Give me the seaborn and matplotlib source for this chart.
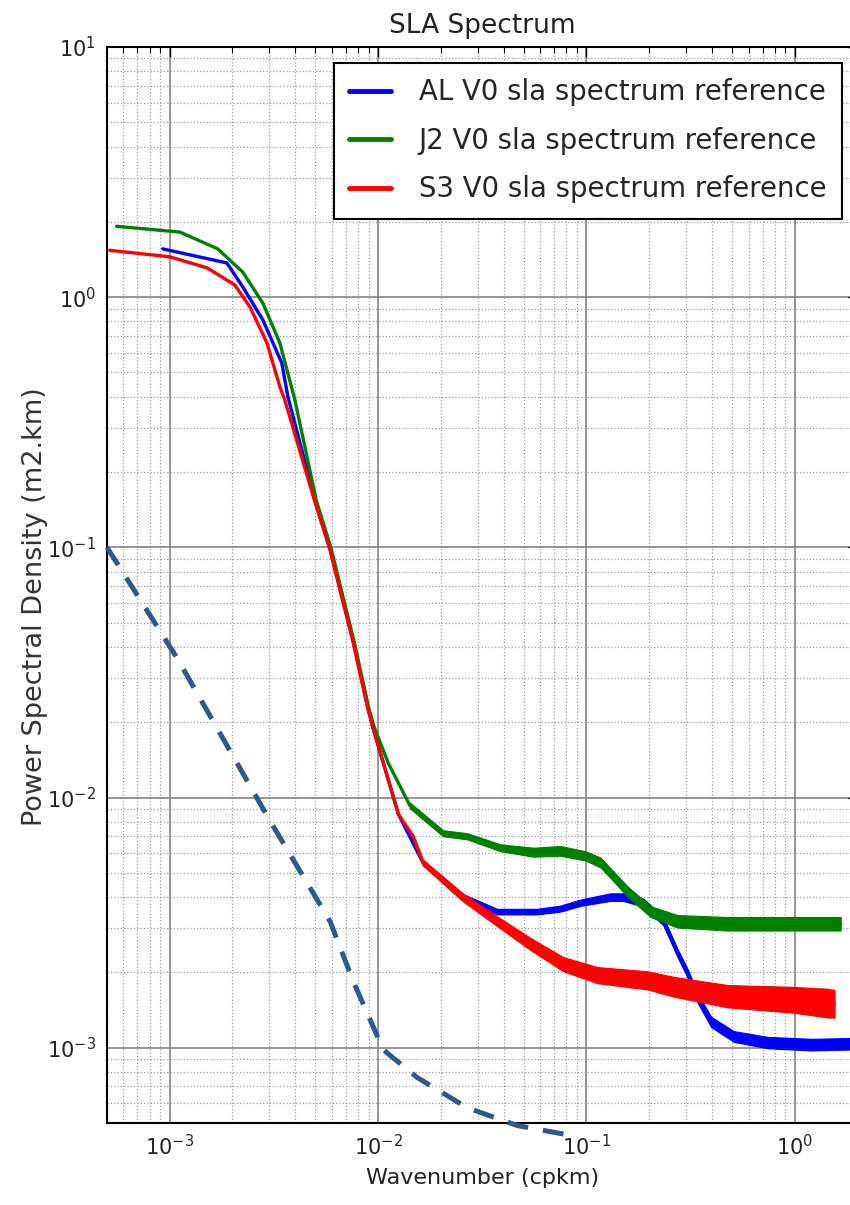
import numpy as np
import pandas as pd
import matplotlib
matplotlib.use("Agg")
import matplotlib.pyplot as plt
from matplotlib.ticker import LogLocator, NullFormatter
import seaborn as sns

# ---------------- data ----------------
title = "SLA Spectrum"
x_label = "Wavenumber (cpkm)"
y_label = "Power Spectral Density (m2.km)"
series_names = ["AL V0 sla spectrum reference",
                "J2 V0 sla spectrum reference",
                "S3 V0 sla spectrum reference"]

al_x = [9.25e-4, 1.88e-3, 2.24e-3, 2.8e-3, 3.45e-3, 3.69e-3, 4.98e-3, 5.88e-3,
        6.79e-3, 7.58e-3, 8.93e-3, 9.45e-3, 1.25e-2, 1.64e-2, 2.47e-2, 3.73e-2,
        5.8e-2, 7.5e-2, 9.37e-2, 0.13, 0.15, 0.188, 0.234, 0.273, 0.306, 0.342,
        0.396, 0.509, 0.74, 1.2, 2.0]
al_y = [1.56, 1.37, 1.10, 0.81, 0.545, 0.40, 0.154, 0.099,
        0.0614, 0.0425, 0.0229, 0.019, 8.6e-3, 5.5e-3, 4.06e-3, 3.5e-3,
        3.5e-3, 3.6e-3, 3.8e-3, 4.0e-3, 4.0e-3, 3.8e-3, 3.2e-3, 2.4e-3, 1.98e-3, 1.58e-3,
        1.27e-3, 1.11e-3, 1.05e-3, 1.03e-3, 1.04e-3]
# noise envelope of AL (from x = 1.64e-2 on)
al_band_x = [1.64e-2, 2.47e-2, 3.73e-2, 5.8e-2, 7.5e-2, 9.37e-2, 0.13, 0.15, 0.188,
             0.234, 0.273, 0.306, 0.342, 0.396, 0.509, 0.74, 1.2, 2.0]
al_band_lo = [5.39e-3, 3.96e-3, 3.41e-3, 3.41e-3, 3.5e-3, 3.69e-3, 3.86e-3, 3.86e-3, 3.66e-3,
              3.08e-3, 2.31e-3, 1.9e-3, 1.51e-3, 1.21e-3, 1.055e-3, 0.995e-3, 0.975e-3, 0.985e-3]
al_band_hi = [5.61e-3, 4.16e-3, 3.59e-3, 3.59e-3, 3.7e-3, 3.91e-3, 4.14e-3, 4.14e-3, 3.94e-3,
              3.32e-3, 2.49e-3, 2.06e-3, 1.65e-3, 1.33e-3, 1.165e-3, 1.105e-3, 1.085e-3, 1.095e-3]

j2_x = [5.56e-4, 1.12e-3, 1.70e-3, 2.24e-3, 2.80e-3, 3.38e-3, 3.99e-3, 5.05e-3,
        5.95e-3, 6.85e-3, 7.65e-3, 9.0e-3, 9.6e-3, 1.12e-2, 1.42e-2, 2.05e-2,
        2.68e-2, 3.86e-2, 5.57e-2, 7.5e-2, 9.9e-2, 0.117, 0.130, 0.158, 0.203,
        0.273, 0.475, 0.99, 1.66]
j2_y = [1.92, 1.82, 1.56, 1.26, 0.946, 0.655, 0.387, 0.154,
        0.099, 0.0614, 0.0425, 0.0229, 0.019, 0.0137, 9.3e-3, 7.2e-3,
        7.0e-3, 6.3e-3, 6.03e-3, 6.1e-3, 5.85e-3, 5.5e-3, 5.0e-3, 4.2e-3, 3.5e-3,
        3.2e-3, 3.13e-3, 3.13e-3, 3.13e-3]
j2_band_x = [1.42e-2, 2.05e-2, 2.68e-2, 3.86e-2, 5.57e-2, 7.5e-2, 9.9e-2, 0.117, 0.130,
             0.158, 0.203, 0.273, 0.475, 0.99, 1.66]
j2_band_lo = [9.05e-3, 7.0e-3, 6.8e-3, 6.1e-3, 5.8e-3, 5.85e-3, 5.6e-3, 5.25e-3, 4.78e-3,
              4.0e-3, 3.33e-3, 3.02e-3, 2.94e-3, 2.94e-3, 2.94e-3]
j2_band_hi = [9.55e-3, 7.4e-3, 7.2e-3, 6.5e-3, 6.3e-3, 6.4e-3, 6.1e-3, 5.75e-3, 5.23e-3,
              4.4e-3, 3.68e-3, 3.39e-3, 3.33e-3, 3.33e-3, 3.33e-3]

s3_x = [5.15e-4, 1.0e-3, 1.51e-3, 2.05e-3, 2.43e-3, 2.93e-3, 3.38e-3, 3.57e-3,
        4.95e-3, 5.85e-3, 6.75e-3, 7.55e-3, 8.9e-3, 9.45e-3, 1.25e-2, 1.47e-2,
        1.64e-2, 2.56e-2, 3.73e-2, 5.37e-2, 7.75e-2, 0.113, 0.196, 0.262,
        0.475, 0.99, 1.44, 1.55]
s3_y = [1.54, 1.45, 1.31, 1.12, 0.912, 0.655, 0.437, 0.387,
        0.154, 0.099, 0.0614, 0.0425, 0.0229, 0.019, 8.6e-3, 7.0e-3,
        5.5e-3, 3.98e-3, 3.2e-3, 2.6e-3, 2.15e-3, 1.95e-3, 1.86e-3, 1.75e-3,
        1.6e-3, 1.55e-3, 1.5e-3, 1.5e-3]
s3_band_x = [1.47e-2, 1.64e-2, 2.56e-2, 3.73e-2, 5.37e-2, 7.75e-2, 0.113, 0.196, 0.262,
             0.475, 0.99, 1.44, 1.55]
s3_band_lo = [6.85e-3, 5.35e-3, 3.84e-3, 3.06e-3, 2.46e-3, 2.02e-3, 1.81e-3, 1.71e-3, 1.6e-3,
              1.45e-3, 1.38e-3, 1.32e-3, 1.32e-3]
s3_band_hi = [7.15e-3, 5.65e-3, 4.13e-3, 3.35e-3, 2.75e-3, 2.3e-3, 2.1e-3, 2.02e-3, 1.92e-3,
              1.78e-3, 1.75e-3, 1.72e-3, 1.7e-3]

# hand-drawn dashed annotation curve
dash_x = [5.0e-4, 1.08e-3, 3.02e-3, 5.88e-3, 7.58e-3, 1.06e-2, 1.54e-2, 2.68e-2, 4.67e-2, 8.55e-2]
dash_y = [0.100, 0.0363, 8.1e-3, 3.2e-3, 1.85e-3, 9.8e-4, 7.6e-4, 5.75e-4, 4.88e-4, 4.45e-4]

x_limits = (5e-4, 2.0)
y_limits = (5e-4, 10.0)

# ---------------- style ----------------
sns.set_style("white")
plt.rcParams["font.family"] = ["DejaVu Sans"]
plt.rcParams["mathtext.default"] = "regular"

colors = ["#0000ff", "#008000", "#ff0000"]

fig = plt.figure(figsize=(8.5, 12.05), dpi=100)
ax = fig.add_axes([107 / 850, 1 - 1123 / 1205, (857.6 - 107) / 850, (1123 - 47) / 1205])
ax.set_xscale("log")
ax.set_yscale("log")
ax.set_xlim(*x_limits)
ax.set_ylim(*y_limits)

series = [(al_x, al_y, al_band_x, al_band_lo, al_band_hi),
          (j2_x, j2_y, j2_band_x, j2_band_lo, j2_band_hi),
          (s3_x, s3_y, s3_band_x, s3_band_lo, s3_band_hi)]

for (sx, sy, bx, blo, bhi), name, c in zip(series, series_names, colors):
    df = pd.DataFrame({"x": sx, "y": sy})
    sns.lineplot(data=df, x="x", y="y", ax=ax, color=c, lw=2.4, sort=False,
                 estimator=None, label=name, zorder=3)
    ax.fill_between(bx, blo, bhi, color=c, lw=0.8, edgecolor=c, zorder=3)

ddf = pd.DataFrame({"x": dash_x, "y": dash_y})
sns.lineplot(data=ddf, x="x", y="y", ax=ax, color="#2d5a8c", lw=3.6, sort=False,
             estimator=None, legend=False, zorder=4)
ax.lines[-1].set_linestyle((0, (4.2, 3.0)))
ax.lines[-1].set_clip_on(False)

# grid & ticks
ax.xaxis.set_major_locator(LogLocator(base=10, numticks=20))
ax.yaxis.set_major_locator(LogLocator(base=10, numticks=20))
ax.xaxis.set_minor_locator(LogLocator(base=10, subs=np.arange(2, 10), numticks=100))
ax.yaxis.set_minor_locator(LogLocator(base=10, subs=np.arange(2, 10), numticks=100))
ax.xaxis.set_minor_formatter(NullFormatter())
ax.yaxis.set_minor_formatter(NullFormatter())
ax.grid(True, which="major", color="#7a7a7a", lw=1.1, ls="-", zorder=0)
ax.grid(True, which="minor", color="#9a9a9a", lw=0.9, ls=":", zorder=0)
ax.tick_params(which="both", direction="in", top=True, right=True, colors="black")
ax.tick_params(which="major", length=7, width=1.0, labelsize=15, pad=8)
ax.tick_params(which="minor", length=4, width=0.8)
for lab in ax.get_xticklabels() + ax.get_yticklabels():
    lab.set_color("#222222")
for sp in ax.spines.values():
    sp.set_color("black")
    sp.set_linewidth(1.5)

ax.set_title(title, fontsize=19, pad=10, color="#222222")
ax.set_xlabel(x_label, fontsize=16, labelpad=6, color="#222222")
ax.set_ylabel(y_label, fontsize=19.5, color="#333333")
ax.yaxis.set_label_coords(-0.096, 0.48)
ax.yaxis.label.set_verticalalignment("center")

leg = ax.legend(loc="upper right", bbox_to_anchor=(1 - 16 / 750.6, 1 - 16 / 1076),
                fontsize=19.8, frameon=True, fancybox=False, framealpha=1,
                edgecolor="black", borderpad=0.55, labelspacing=0.75,
                handlelength=1.55, handletextpad=1.0, borderaxespad=0)
leg.get_frame().set_linewidth(1.5)
for line in leg.get_lines():
    line.set_linewidth(3.5)

fig.savefig("out.png", dpi=100)
